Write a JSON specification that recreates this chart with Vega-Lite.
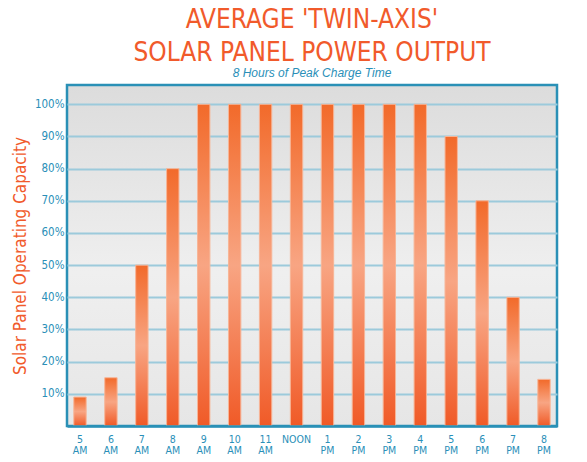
{
  "$schema": "https://vega.github.io/schema/vega-lite/v6.json",
  "autosize": {"type": "none"},
  "width": 490,
  "height": 341,
  "padding": {"left": 67, "top": 85, "right": 30, "bottom": 36},
  "background": "white",
  "title": {
    "text": ["AVERAGE 'TWIN-AXIS'", "SOLAR PANEL POWER OUTPUT"],
    "subtitle": "8 Hours of Peak Charge Time",
    "anchor": "middle",
    "frame": "group",
    "font": "DejaVu Sans Condensed, Roboto, sans-serif",
    "fontWeight": "normal",
    "fontSize": 26,
    "lineHeight": 33,
    "color": "#f15a2b",
    "subtitleFont": "Liberation Sans",
    "subtitleFontStyle": "italic",
    "subtitleFontSize": 12,
    "subtitleColor": "#2a8fb8",
    "subtitlePadding": 2,
    "offset": 6
  },
  "data": {
    "values": [
      {"hour": "5 AM", "output": 9},
      {"hour": "6 AM", "output": 15},
      {"hour": "7 AM", "output": 50},
      {"hour": "8 AM", "output": 80},
      {"hour": "9 AM", "output": 100},
      {"hour": "10 AM", "output": 100},
      {"hour": "11 AM", "output": 100},
      {"hour": "NOON", "output": 100},
      {"hour": "1 PM", "output": 100},
      {"hour": "2 PM", "output": 100},
      {"hour": "3 PM", "output": 100},
      {"hour": "4 PM", "output": 100},
      {"hour": "5 PM", "output": 90},
      {"hour": "6 PM", "output": 70},
      {"hour": "7 PM", "output": 40},
      {"hour": "8 PM", "output": 14.5}
    ]
  },
  "mark": {
    "type": "bar",
    "fill": {
      "gradient": "linear",
      "x1": 0, "y1": 0, "x2": 0, "y2": 1,
      "stops": [
        {"offset": 0, "color": "#f26a2a"},
        {"offset": 0.5, "color": "#f8a583"},
        {"offset": 1, "color": "#f05a27"}
      ]
    },
    "stroke": "#f7b597",
    "strokeWidth": 1
  },
  "encoding": {
    "x": {
      "field": "hour",
      "type": "nominal",
      "sort": null,
      "title": null,
      "scale": {"paddingInner": 0.6, "paddingOuter": 0.22},
      "axis": {
        "labelAngle": 0,
        "labelExpr": "split(datum.value, ' ')",
        "labelFont": "DejaVu Sans Condensed, Roboto, sans-serif",
        "labelFontSize": 10.5,
        "labelLineHeight": 11,
        "labelColor": "#2a8fb8",
        "labelPadding": 8,
        "ticks": false,
        "domain": true,
        "domainColor": "#2a90b6",
        "domainWidth": 2.5,
        "zindex": 1
      }
    },
    "y": {
      "field": "output",
      "type": "quantitative",
      "title": "Solar Panel Operating Capacity",
      "scale": {"domain": [0, 106], "nice": false},
      "axis": {
        "values": [10, 20, 30, 40, 50, 60, 70, 80, 90, 100],
        "labelExpr": "datum.value + '%'",
        "labelFont": "DejaVu Sans Condensed, Roboto, sans-serif",
        "labelFontSize": 11.5,
        "labelColor": "#2a8fb8",
        "labelPadding": 3,
        "ticks": false,
        "domain": false,
        "gridColor": "#9ccadb",
        "gridWidth": 2,
        "titleFont": "DejaVu Sans Condensed, Roboto, sans-serif",
        "titleFontSize": 17,
        "titleFontWeight": "normal",
        "titleColor": "#f15a2b",
        "titlePadding": 5
      }
    }
  },
  "config": {
    "view": {
      "fill": {
        "gradient": "linear",
        "x1": 0, "y1": 0, "x2": 0, "y2": 1,
        "stops": [
          {"offset": 0, "color": "#dcdcdc"},
          {"offset": 0.55, "color": "#efefef"},
          {"offset": 1, "color": "#e6e6e6"}
        ]
      },
      "stroke": "#2a90b6",
      "strokeWidth": 2.5
    }
  }
}
